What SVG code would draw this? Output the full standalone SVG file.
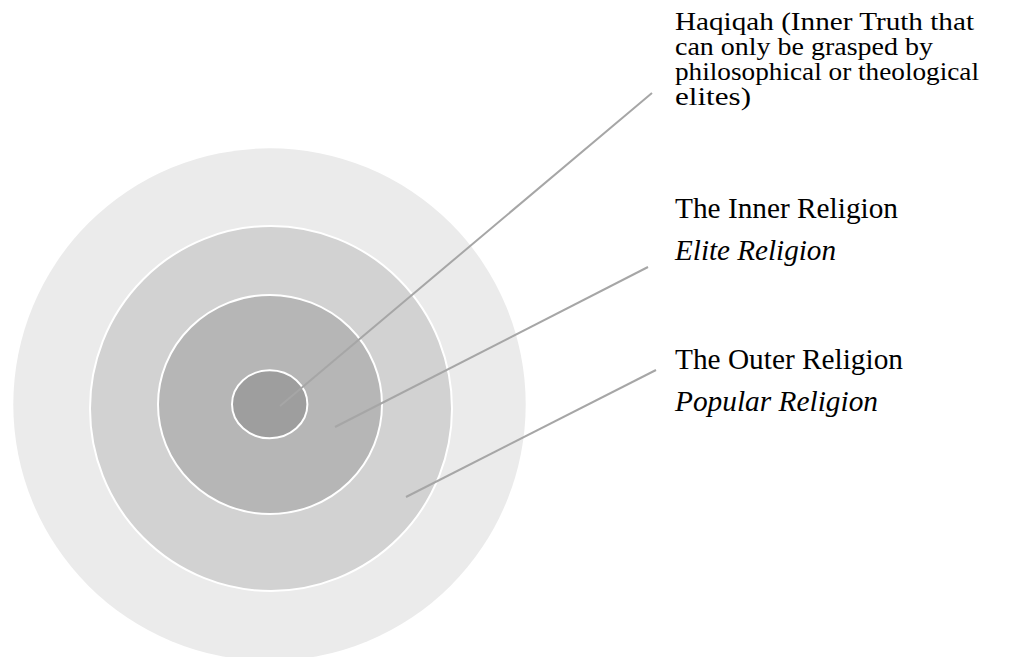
<svg xmlns="http://www.w3.org/2000/svg" width="1012" height="657" viewBox="0 0 1012 657">
<style>
.ring{stroke:#ffffff;stroke-width:2}
.lbl{font-family:"Liberation Serif","Times New Roman",serif;fill:#000000}
.sm{font-size:26px}
.lg{font-size:29px}
.it{font-style:italic}
.conn{stroke:#a6a6a6;stroke-width:2;fill:none}
</style>
<rect width="1012" height="657" fill="#ffffff"/>
<g id="outer-ring">
<ellipse cx="269.5" cy="404.5" rx="256.2" ry="256.2" fill="#ebebeb"/>
</g>
<g id="ring-3">
<ellipse class="ring" cx="271" cy="408.5" rx="181" ry="182.5" fill="#d2d2d2"/>
</g>
<g id="ring-2">
<ellipse class="ring" cx="270" cy="404.5" rx="112" ry="109.5" fill="#b6b6b6"/>
</g>
<g id="core">
<ellipse class="ring" cx="269.7" cy="404.3" rx="37.7" ry="34" fill="#9e9e9e"/>
</g>
<g id="connectors">
<line class="conn" x1="280" y1="406" x2="652" y2="93"/>
<line class="conn" x1="335" y1="427" x2="648" y2="267"/>
<line class="conn" x1="406" y1="497" x2="656" y2="370"/>
</g>
<g id="label-haqiqah">
<text class="lbl sm" x="675" y="30" textLength="299" lengthAdjust="spacingAndGlyphs">Haqiqah (Inner Truth that</text>
<text class="lbl sm" x="675" y="55" textLength="258" lengthAdjust="spacingAndGlyphs">can only be grasped by</text>
<text class="lbl sm" x="675" y="80" textLength="304" lengthAdjust="spacingAndGlyphs">philosophical or theological</text>
<text class="lbl sm" x="675" y="105" textLength="76" lengthAdjust="spacingAndGlyphs">elites)</text>
</g>
<g id="label-inner">
<text class="lbl lg" x="675" y="218" textLength="223" lengthAdjust="spacingAndGlyphs">The Inner Religion</text>
<text class="lbl lg it" x="675" y="260" textLength="161" lengthAdjust="spacingAndGlyphs">Elite Religion</text>
</g>
<g id="label-outer">
<text class="lbl lg" x="675" y="369" textLength="228" lengthAdjust="spacingAndGlyphs">The Outer Religion</text>
<text class="lbl lg it" x="675" y="411" textLength="203" lengthAdjust="spacingAndGlyphs">Popular Religion</text>
</g>
</svg>
